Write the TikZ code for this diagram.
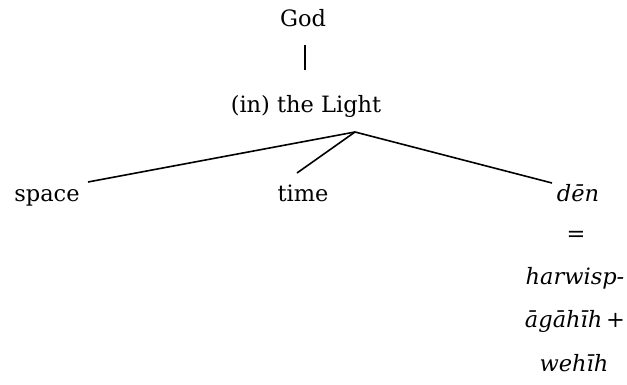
\documentclass[tikz,border=0pt]{standalone}
\usepackage{fontspec}
\setmainfont{DejaVu Serif}
\begin{document}
\begin{tikzpicture}[x=1pt,y=1pt,
  lbl/.style={inner sep=0pt,anchor=base,font=\fontsize{22.5}{27}\selectfont},
  ilbl/.style={lbl,font=\fontsize{22.5}{27}\selectfont\itshape},
  edge/.style={line width=1.6pt}]
\useasboundingbox (0,0) rectangle (627,385);
\node[lbl] (god) at (303,358) {God};
\node[lbl] (light) at (306,272) {(in) the Light};
\coordinate (apex) at (355,253);
\node[lbl] (space) at (47,183) {space};
\node[lbl] (time) at (303,183) {time};
\node[ilbl] (den) at (578,183) {dēn};
\node[lbl,anchor=center] (eq) at (576,149) {=};
\node[ilbl] (harw) at (575,100) {harwisp-};
\node[ilbl] (agah) at (575,57) {āgāhīh\,+};
\node[ilbl] (weh) at (574,13) {wehīh};
\coordinate (g1) at (305,340);
\coordinate (g2) at (305,315);
\coordinate (s1) at (88,203);
\coordinate (t1) at (297,212);
\coordinate (d1) at (552,202);
\draw[edge] (g1) -- (g2);
\draw[edge] (s1) -- (apex);
\draw[edge] (t1) -- (apex);
\draw[edge] (d1) -- (apex);
\end{tikzpicture}
\end{document}
